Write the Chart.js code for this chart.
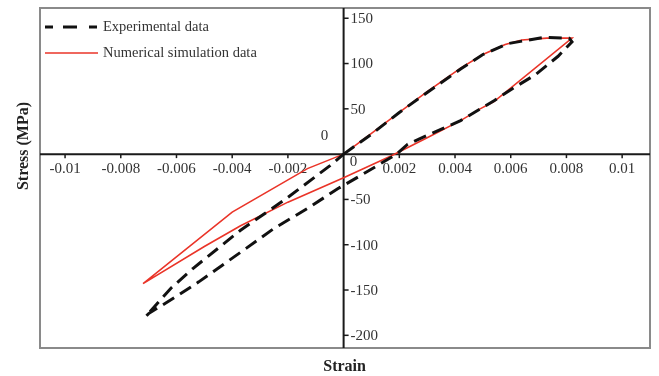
<!DOCTYPE html>
<html>
<head>
<meta charset="utf-8">
<script src="https://cdn.jsdelivr.net/npm/chart.js@4.4.1/dist/chart.umd.min.js"></script>
<style>
  html, body { margin: 0; padding: 0; background: #fff; }
  #wrap { width: 659px; height: 376px; position: relative; }
</style>
</head>
<body>
<div id="wrap"><canvas id="hysteresis"></canvas></div>
<script>
// --- data ---
const expStrain = [0, 0.001, 0.002, 0.003, 0.0042, 0.005, 0.0059, 0.0072, 0.0081, 0.0082,
  0.0077, 0.0069, 0.0061, 0.0054, 0.0042, 0.0031, 0.0023, 0.0019, 0.0007, -0.0002,
  -0.0013, -0.0025, -0.0035, -0.0052, -0.0060, -0.0070, -0.0071,
  -0.0062, -0.0054, -0.0037, -0.0021, -0.0005, 0];
const expStress = [0, 22, 46, 68, 94, 110, 122, 129, 128, 124,
  108, 88, 73, 59, 37, 22, 11, 0, -22, -38,
  -60, -82, -104, -141, -157, -176, -179,
  -148, -126, -84, -50, -13, 0];

const simStrain = [0, 0.001, 0.002, 0.003, 0.0042, 0.005, 0.0058, 0.0064, 0.0073, 0.0082,
  0.0054, 0.0049, 0.0042, 0.0030, 0.0017, 0, -0.0020, -0.0037, -0.0050, -0.0072,
  -0.0040, -0.0013, 0];
const simStress = [0, 23, 46, 69, 95, 110, 121, 126, 128, 128,
  58, 50, 37, 18, -2, -26, -53, -79, -102, -143,
  -64, -16, 0];

const xTicks = [-0.01, -0.008, -0.006, -0.004, -0.002, 0.002, 0.004, 0.006, 0.008, 0.01];
const xTickLabels = ['-0.01', '-0.008', '-0.006', '-0.004', '-0.002', '0.002', '0.004', '0.006', '0.008', '0.01'];
const yTicks = [150, 100, 50, -50, -100, -150, -200];
const yTickLabels = ['150', '100', '50', '-50', '-100', '-150', '-200'];

const xTitle = 'Strain';
const yTitle = 'Stress (MPa)';
const seriesNames = ['Experimental data', 'Numerical simulation data'];

const SERIF = '"Liberation Serif", "Times New Roman", serif';

function toPoints(xs, ys) {
  return xs.map((x, i) => ({ x: x, y: ys[i] }));
}

// axes crossing at the origin, drawn from the chart's own scales
const crossAxes = {
  id: 'crossAxes',
  beforeDatasetsDraw(chart) {
    const { ctx, chartArea: a, scales: { x, y } } = chart;
    const x0 = x.getPixelForValue(0);
    const y0 = y.getPixelForValue(0);
    ctx.save();

    // frame
    ctx.strokeStyle = '#8a8a8a';
    ctx.lineWidth = 2;
    ctx.strokeRect(a.left, a.top, a.right - a.left, a.bottom - a.top);

    // axis lines
    ctx.strokeStyle = '#1a1a1a';
    ctx.lineWidth = 2;
    ctx.beginPath();
    ctx.moveTo(a.left, y0); ctx.lineTo(a.right, y0);
    ctx.moveTo(x0, a.top); ctx.lineTo(x0, a.bottom);
    ctx.stroke();

    ctx.font = '15px ' + SERIF;
    ctx.fillStyle = '#333';
    ctx.lineWidth = 1.5;

    // x ticks (below axis) + labels
    ctx.textAlign = 'center';
    ctx.textBaseline = 'top';
    xTicks.forEach((v, i) => {
      const px = x.getPixelForValue(v);
      ctx.beginPath();
      ctx.moveTo(px, y0); ctx.lineTo(px, y0 + 4);
      ctx.stroke();
      ctx.fillText(xTickLabels[i], px, y0 + 7);
    });

    // y ticks (right of axis) + labels
    ctx.textAlign = 'left';
    ctx.textBaseline = 'middle';
    yTicks.forEach((v, i) => {
      const py = y.getPixelForValue(v);
      ctx.beginPath();
      ctx.moveTo(x0, py); ctx.lineTo(x0 + 5, py);
      ctx.stroke();
      ctx.fillText(yTickLabels[i], x0 + 7, py + 1);
    });

    // the two zeros at the origin
    ctx.textAlign = 'center';
    ctx.fillText('0', x0 - 19, y0 - 18);
    ctx.fillText('0', x0 + 10, y0 + 8);

    // axis titles
    ctx.font = 'bold 16px ' + SERIF;
    ctx.fillStyle = '#222';
    ctx.textBaseline = 'middle';
    ctx.fillText(xTitle, x0 + 1, a.bottom + 19);
    ctx.save();
    ctx.translate(24, 146);
    ctx.rotate(-Math.PI / 2);
    ctx.fillText(yTitle, 0, 0);
    ctx.restore();

    ctx.restore();
  },
  // legend in the upper-left corner of the frame, styled from the datasets
  afterDatasetsDraw(chart) {
    const { ctx, chartArea: a } = chart;
    const rows = [27, 53];
    const dashes = [[8, 10, 14, 12], []];
    ctx.save();
    chart.data.datasets.forEach((ds, i) => {
      const yy = rows[i];
      ctx.strokeStyle = ds.borderColor;
      ctx.lineWidth = ds.borderWidth;
      ctx.setLineDash(dashes[i]);
      ctx.beginPath();
      ctx.moveTo(a.left + 5, yy);
      ctx.lineTo(a.left + 58, yy);
      ctx.stroke();
      ctx.setLineDash([]);
      ctx.font = '14.5px ' + SERIF;
      ctx.fillStyle = '#333';
      ctx.textAlign = 'left';
      ctx.textBaseline = 'middle';
      ctx.fillText(ds.label, a.left + 63, yy);
    });
    ctx.restore();
  }
};

const chart = new Chart(document.getElementById('hysteresis'), {
  type: 'scatter',
  data: {
    datasets: [
      {
        label: seriesNames[0],
        data: toPoints(expStrain, expStress),
        showLine: true,
        borderColor: '#111',
        backgroundColor: '#111',
        borderWidth: 3,
        borderDash: [13, 7],
        pointRadius: 0,
        tension: 0
      },
      {
        label: seriesNames[1],
        data: toPoints(simStrain, simStress),
        showLine: true,
        borderColor: 'rgb(234, 52, 40)',
        backgroundColor: 'rgb(234, 52, 40)',
        borderWidth: 1.6,
        pointRadius: 0,
        tension: 0
      }
    ]
  },
  options: {
    responsive: true,
    maintainAspectRatio: false,
    animation: false,
    layout: { padding: { left: 40, right: 9, top: 8, bottom: 28 } },
    scales: {
      x: { type: 'linear', min: -0.0109, max: 0.011, display: false },
      y: { type: 'linear', min: -214, max: 161.3, display: false }
    },
    plugins: {
      tooltip: { enabled: false },
      legend: { display: false }
    }
  },
  plugins: [crossAxes]
});
</script>
</body>
</html>
